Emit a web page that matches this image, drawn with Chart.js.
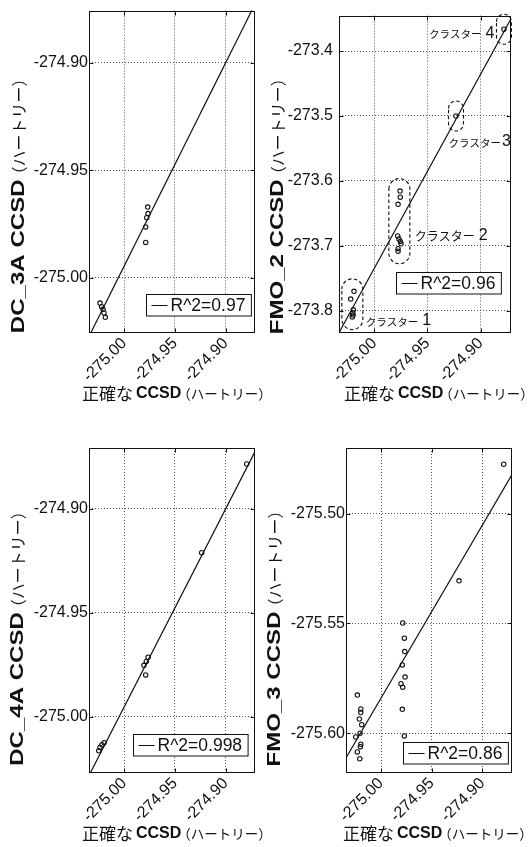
<!DOCTYPE html>
<html>
<head>
<meta charset="utf-8">
<script src="https://cdn.jsdelivr.net/npm/chart.js@4.4.1/dist/chart.umd.min.js"></script>
<style>
  html, body { margin: 0; padding: 0; background: #fff; }
  #wrap { position: relative; width: 528px; height: 847px; overflow: hidden; background: #fff; }
  #wrap canvas { position: absolute; }
</style>
</head>
<body>
<div id="wrap">
  <canvas id="pDC3" width="264" height="420" style="left:0;top:0"></canvas>
  <canvas id="pFMO2" width="264" height="420" style="left:264px;top:0"></canvas>
  <canvas id="pDC4" width="264" height="427" style="left:0;top:420px"></canvas>
  <canvas id="pFMO3" width="264" height="427" style="left:264px;top:420px"></canvas>
</div>
<script>
// ---- shared horizontal axis: exact CCSD energy (hartree) ----
const exactTicks = [-275.00, -274.95, -274.90];
const exactTickLabels = ['-275.00', '-274.95', '-274.90'];
const xAxisTitle = ['正確な', 'CCSD', '（ハートリー）'];
const yUnit = '（ハートリー）';

// ---- DC_3A ----
const dc3aExact  = [-274.9769, -274.9766, -274.9779, -274.9789, -274.9789,
                    -275.0240, -275.0223, -275.0210, -275.0200, -275.0187];
const dc3aEnergy = [-274.9671, -274.9701, -274.9720, -274.9763, -274.9835,
                    -275.0117, -275.0134, -275.0146, -275.0163, -275.0183];
const dc3aFitExact  = [-275.0350, -274.8700];
const dc3aFitEnergy = [-275.0274, -274.8717];
const dc3aTicks = [-275.00, -274.95, -274.90];
const dc3aTickLabels = ['-275.00', '-274.95', '-274.90'];

// ---- FMO_2 (grouped in clusters) ----
const fmo2Exact  = [-275.0191, -275.0222, -275.0197, -275.0203, -275.0200, -275.0207,
                    -274.9758, -274.9756, -274.9777, -274.9780, -274.9768, -274.9756, -274.9749, -274.9777, -274.9777,
                    -274.9232,
                    -274.8781];
const fmo2Energy = [-273.7700, -273.7820, -273.7985, -273.8030, -273.8066, -273.8097,
                    -273.6156, -273.6251, -273.6361, -273.6848, -273.6893, -273.6932, -273.6969, -273.7044, -273.7083,
                    -273.5000,
                    -273.3664];
const fmo2Cluster = [1, 1, 1, 1, 1, 1,
                     2, 2, 2, 2, 2, 2, 2, 2, 2,
                     3,
                     4];
const clusterNames = ['クラスター 1', 'クラスター 2', 'クラスター3', 'クラスター 4'];
const fmo2FitExact  = [-275.0332, -274.8709];
const fmo2FitEnergy = [-273.8337, -273.3484];
const fmo2Ticks = [-273.8, -273.7, -273.6, -273.5, -273.4];
const fmo2TickLabels = ['-273.8', '-273.7', '-273.6', '-273.5', '-273.4'];

// ---- DC_4A ----
const dc4aExact  = [-274.9765, -274.9783, -274.9806, -274.9789, -274.9237, -274.8793,
                    -275.0199, -275.0220, -275.0240, -275.0252];
const dc4aEnergy = [-274.9714, -274.9734, -274.9753, -274.9799, -274.9211, -274.8784,
                    -275.0125, -275.0135, -275.0148, -275.0164];
const dc4aFitExact  = [-275.0350, -274.8700];
const dc4aFitEnergy = [-275.0285, -274.8714];
const dc4aTicks = [-275.00, -274.95, -274.90];
const dc4aTickLabels = ['-275.00', '-274.95', '-274.90'];

// ---- FMO_3 ----
const fmo3Exact  = [-275.0234, -275.0200, -275.0200, -275.0214, -275.0191, -275.0207, -275.0250, -275.0200, -275.0204, -275.0234, -275.0210,
                    -274.9786, -274.9770, -274.9766, -274.9790, -274.9763, -274.9803, -274.9786, -274.9790, -274.9770,
                    -274.9230, -274.8789];
const fmo3Energy = [-275.5826, -275.5889, -275.5906, -275.5935, -275.5961, -275.6000, -275.6017, -275.6050, -275.6061, -275.6085, -275.6116,
                    -275.5498, -275.5567, -275.5628, -275.5689, -275.5744, -275.5774, -275.5790, -275.5891, -275.6012,
                    -275.5306, -275.4775];
const fmo3FitExact  = [-275.0348, -274.8710];
const fmo3FitEnergy = [-275.6114, -275.4824];
const fmo3Ticks = [-275.60, -275.55, -275.50];
const fmo3TickLabels = ['-275.60', '-275.55', '-275.50'];

// ---- fonts ----
const LATIN = '"Liberation Sans", Arial, Helvetica, sans-serif';
const CJK = '"Noto Sans CJK JP", "Noto Sans CJK SC", sans-serif';

function pairs(xs, ys) { return xs.map((x, i) => ({ x: x, y: ys[i] })); }

// Frame, inner ticks, cluster outlines, boxed legend and axis titles.
const panelDecor = {
  id: 'panelDecor',
  afterDatasetsDraw(chart, args, o) {
    const ctx = chart.ctx, a = chart.chartArea;
    const xs = chart.scales.x, ys = chart.scales.y;
    const L = Math.round(a.left) + 0.5, R = Math.round(a.right) - 0.5;
    const T = Math.round(a.top) + 0.5, B = Math.round(a.bottom) - 0.5;
    ctx.save();
    ctx.strokeStyle = '#111';
    ctx.lineWidth = 1;
    ctx.setLineDash([]);
    ctx.strokeRect(L, T, R - L, B - T);
    // short inward ticks at each tick value
    ctx.beginPath();
    o.xTicks.forEach(v => {
      const px = Math.round(xs.getPixelForValue(v)) + 0.5;
      ctx.moveTo(px, T); ctx.lineTo(px, T + 4);
      ctx.moveTo(px, B); ctx.lineTo(px, B - 4);
    });
    o.yTicks.forEach(v => {
      const py = Math.round(ys.getPixelForValue(v)) + 0.5;
      ctx.moveTo(L, py); ctx.lineTo(L + 4, py);
      ctx.moveTo(R, py); ctx.lineTo(R - 4, py);
    });
    ctx.stroke();

    // dashed outlines around point clusters with their names
    if (o.clusters) {
      const ds = chart.data.datasets[0].data;
      const groups = {};
      ds.forEach((p, i) => {
        const c = o.clusters.ids[i];
        (groups[c] = groups[c] || []).push(p);
      });
      Object.keys(groups).forEach(k => {
        const g = groups[k];
        const pxs = g.map(p => xs.getPixelForValue(p.x));
        const pys = g.map(p => ys.getPixelForValue(p.y));
        const cx = (Math.min(...pxs) + Math.max(...pxs)) / 2;
        const hw = g.length > 1 ? 10.5 : 7.5;
        const pad = g.length > 1 ? 12.5 : 15;
        const box = { left: cx - hw, right: cx + hw,
                      top: Math.min(...pys) - pad, bottom: Math.max(...pys) + pad };
        box.cy = (box.top + box.bottom) / 2;
        const r = hw;
        ctx.save();
        ctx.setLineDash([3.5, 2.5]);
        ctx.lineWidth = 1.1;
        ctx.strokeStyle = '#111';
        ctx.beginPath();
        ctx.moveTo(box.left, box.top + r);
        ctx.arc(cx, box.top + r, r, Math.PI, 0);
        ctx.lineTo(box.right, box.bottom - r);
        ctx.arc(cx, box.bottom - r, r, 0, Math.PI);
        ctx.closePath();
        ctx.stroke();
        ctx.restore();

        const idx = Number(k) - 1;
        const place = o.clusters.place[idx];
        const name = clusterNames[idx];
        const m = name.match(/^(\D+?)(\s?)(\d+)$/);
        const kanaFont = place.kana + 'px ' + CJK;
        const numFont = '16px ' + LATIN;
        ctx.font = kanaFont;
        const wk = ctx.measureText(m[1]).width;
        ctx.font = numFont;
        const wn = ctx.measureText(m[3]).width;
        const gap = m[2] ? 4 : 1;
        const total = wk + gap + wn;
        let x, y;
        if (place.side === 'right') { x = box.right + place.dx; y = box.bottom + place.dy; }
        else if (place.side === 'below') { x = box.left + place.dx; y = box.bottom + place.dy; }
        else { x = box.left + place.dx - total; y = box.cy + place.dy; }
        ctx.fillStyle = '#111';
        ctx.textBaseline = 'middle';
        ctx.textAlign = 'left';
        ctx.font = kanaFont;
        ctx.fillText(m[1], x, y + 1);
        ctx.font = numFont;
        ctx.fillText(m[3], x + wk + gap, y);
      });
    }

    // boxed legend for the fitted line
    const label = chart.data.datasets[1].label;
    const legFont = '17.5px ' + LATIN;
    ctx.font = legFont;
    const tw = ctx.measureText(label).width;
    const w = 24 + tw + 6, h = 21.5;
    const lr = a.right - o.legend.right, lb = a.bottom - o.legend.bottom;
    const lx = Math.round(lr - w) + 0.5, ly = Math.round(lb - h) + 0.5;
    ctx.fillStyle = '#fff';
    ctx.fillRect(lx, ly, w, h);
    ctx.strokeStyle = '#111';
    ctx.lineWidth = 1;
    ctx.strokeRect(lx, ly, w, h);
    ctx.beginPath();
    ctx.moveTo(lx + 5, Math.round(ly + h / 2) + 0.5);
    ctx.lineTo(lx + 21, Math.round(ly + h / 2) + 0.5);
    ctx.stroke();
    ctx.fillStyle = '#111';
    ctx.textBaseline = 'middle';
    ctx.textAlign = 'left';
    ctx.fillText(label, lx + 24, ly + h / 2 + 1);
    ctx.restore();
  },
  afterDraw(chart, args, o) {
    const ctx = chart.ctx, a = chart.chartArea;
    ctx.save();
    ctx.fillStyle = '#111';
    ctx.textBaseline = 'middle';
    ctx.textAlign = 'left';

    // vertical title: bold method name followed by the unit
    const stretch = 1.3;
    const boldFont = 'bold 18.5px ' + LATIN;
    const unitFont = '16px ' + CJK;
    ctx.font = boldFont;
    const wb = ctx.measureText(o.yName).width * stretch;
    ctx.font = unitFont;
    const wu = ctx.measureText(yUnit).width;
    const total = wb + wu - 3;
    ctx.translate(o.yTitleX, (a.top + a.bottom) / 2 + o.yTitleShift);
    ctx.rotate(-Math.PI / 2);
    ctx.save();
    ctx.translate(-total / 2, 0);
    ctx.scale(stretch, 1);
    ctx.font = boldFont;
    ctx.fillText(o.yName, 0, 0);
    ctx.restore();
    ctx.font = unitFont;
    ctx.fillText(yUnit, -total / 2 + wb - 3, 0);
    ctx.setTransform(1, 0, 0, 1, 0, 0);

    // horizontal title
    const fonts = ['17px ' + CJK, 'bold 16px ' + LATIN, '13.5px ' + CJK];
    const gaps = [3, -4, 0];
    let x = a.left + o.xTitleOffset;
    const y = a.bottom + 61;
    xAxisTitle.forEach((s, i) => {
      ctx.font = fonts[i];
      ctx.fillText(s, x, y);
      x += ctx.measureText(s).width + gaps[i];
    });
    ctx.restore();
  }
};
Chart.register(panelDecor);

function makePanel(cfg) {
  const ctx = document.getElementById(cfg.id).getContext('2d');
  return new Chart(ctx, {
    type: 'scatter',
    data: {
      datasets: [
        {
          label: cfg.name,
          data: pairs(cfg.px, cfg.py),
          showLine: false,
          pointStyle: 'circle',
          pointRadius: 2.2,
          pointBorderWidth: 1.1,
          pointBorderColor: '#111',
          pointBackgroundColor: 'rgba(255,255,255,0)',
          order: 1
        },
        {
          type: 'line',
          label: cfg.r2,
          data: pairs(cfg.fx, cfg.fy),
          borderColor: '#111',
          borderWidth: 1.2,
          pointRadius: 0,
          fill: false,
          tension: 0,
          order: 2
        }
      ]
    },
    options: {
      responsive: false,
      animation: false,
      devicePixelRatio: 1,
      events: [],
      layout: { padding: { top: cfg.padTop, right: cfg.padRight, left: 0, bottom: 0 } },
      plugins: {
        legend: { display: false },
        tooltip: { enabled: false },
        panelDecor: {
          xTicks: exactTicks,
          yTicks: cfg.yTicks,
          yName: cfg.name,
          yTitleX: cfg.yTitleX,
          yTitleShift: cfg.yTitleShift,
          xTitleOffset: cfg.xTitleOffset,
          legend: cfg.legend,
          clusters: cfg.clusters || null
        }
      },
      scales: {
        x: {
          type: 'linear',
          min: cfg.xRange[0],
          max: cfg.xRange[1],
          afterBuildTicks: s => { s.ticks = exactTicks.map(v => ({ value: v })); },
          afterFit: s => { s.height = cfg.xAxisH; },
          ticks: {
            autoSkip: false,
            minRotation: 45,
            maxRotation: 45,
            padding: 1,
            color: '#111',
            font: { family: LATIN, size: 16 },
            callback: (v, i) => exactTickLabels[i]
          },
          grid: { color: '#555', lineWidth: 1, drawTicks: false },
          border: { display: false, dash: [1, 2] }
        },
        y: {
          type: 'linear',
          min: cfg.yRange[0],
          max: cfg.yRange[1],
          afterBuildTicks: s => { s.ticks = cfg.yTicks.map(v => ({ value: v })); },
          afterFit: s => { s.width = cfg.yAxisW; },
          ticks: {
            padding: cfg.yPad,
            color: '#111',
            font: { family: LATIN, size: 16 },
            callback: (v, i) => cfg.yLabels[i]
          },
          grid: { color: '#555', lineWidth: 1, drawTicks: false },
          border: { display: false, dash: [1, 2] }
        }
      }
    }
  });
}

makePanel({
  id: 'pDC3', name: 'DC_3A CCSD', r2: 'R^2=0.97',
  px: dc3aExact, py: dc3aEnergy, fx: dc3aFitExact, fy: dc3aFitEnergy,
  yTicks: dc3aTicks, yLabels: dc3aTickLabels,
  xRange: [-275.0348, -274.8711], yRange: [-275.0256, -274.8758],
  padTop: 8, padRight: 9, yAxisW: 89, xAxisH: 87, yPad: 1,
  yTitleX: 19, yTitleShift: 30, xTitleOffset: -7,
  legend: { right: 4.5, bottom: 18 }
});

makePanel({
  id: 'pFMO2', name: 'FMO_2 CCSD', r2: 'R^2=0.96',
  px: fmo2Exact, py: fmo2Energy, fx: fmo2FitExact, fy: fmo2FitEnergy,
  yTicks: fmo2Ticks, yLabels: fmo2TickLabels,
  xRange: [-275.0332, -274.8715], yRange: [-273.8342, -273.3454],
  padTop: 8, padRight: 17, yAxisW: 75, xAxisH: 87, yPad: 6,
  yTitleX: 13.7, yTitleShift: 28, xTitleOffset: 5,
  legend: { right: 10.5, bottom: 40 },
  clusters: {
    ids: fmo2Cluster,
    place: [
      { side: 'right', dx: 3, dy: -9, kana: 10.5 },
      { side: 'right', dx: 5, dy: -28, kana: 12 },
      { side: 'below', dx: 0, dy: 11, kana: 10.5 },
      { side: 'left', dx: -2, dy: 4, kana: 10.5 }
    ]
  }
});

makePanel({
  id: 'pDC4', name: 'DC_4A CCSD', r2: 'R^2=0.998',
  px: dc4aExact, py: dc4aEnergy, fx: dc4aFitExact, fy: dc4aFitEnergy,
  yTicks: dc4aTicks, yLabels: dc4aTickLabels,
  xRange: [-275.0348, -274.8711], yRange: [-275.0271, -274.8707],
  padTop: 28, padRight: 9, yAxisW: 89, xAxisH: 74, yPad: 1,
  yTitleX: 17.5, yTitleShift: 24, xTitleOffset: -7,
  legend: { right: 7, bottom: 17.5 }
});

makePanel({
  id: 'pFMO3', name: 'FMO_3 CCSD', r2: 'R^2=0.86',
  px: fmo3Exact, py: fmo3Energy, fx: fmo3FitExact, fy: fmo3FitEnergy,
  yTicks: fmo3Ticks, yLabels: fmo3TickLabels,
  xRange: [-275.0346, -274.8707], yRange: [-275.6181, -275.4701],
  padTop: 28, padRight: 16, yAxisW: 82, xAxisH: 74, yPad: 1,
  yTitleX: 10.8, yTitleShift: 24, xTitleOffset: -3,
  legend: { right: 4.5, bottom: 9.5 }
});
</script>
</body>
</html>
